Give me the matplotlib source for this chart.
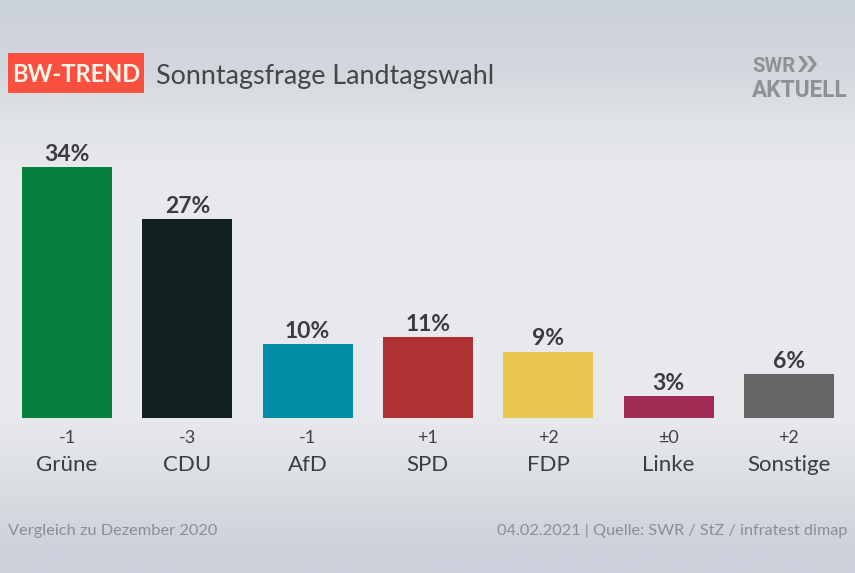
import numpy as np
import matplotlib
matplotlib.use('Agg')
import matplotlib.pyplot as plt
from matplotlib.colors import LinearSegmentedColormap
from matplotlib.patches import Rectangle, Polygon

plt.rcParams['font.family'] = ['Lato', 'DejaVu Sans']

parties = ['Grüne', 'CDU', 'AfD', 'SPD', 'FDP', 'Linke', 'Sonstige']
values = [34, 27, 10, 11, 9, 3, 6]
changes = ['-1', '-3', '-1', '+1', '+2', '±0', '+2']
bar_colors = ['#07803f', '#11211f', '#008ea6', '#ae3233', '#e8c64f', '#a22b55', '#656565']

W, H = 855, 573
fig = plt.figure(figsize=(W / 100, H / 100), dpi=100)

# background, everything outside the bars is placed in pixels on this axes
bg = fig.add_axes([0, 0, 1, 1])
bg.set_xlim(0, W)
bg.set_ylim(H, 0)
bg.axis('off')
cmap = LinearSegmentedColormap.from_list('bg', [
    (0.0, '#cbd1db'), (0.12, '#d3d8de'), (0.20, '#dfe2e6'), (0.30, '#e8e9ed'), (0.72, '#e9eaee'),
    (0.87, '#d8dce0'), (0.96, '#ccd1dc'), (1.0, '#ccd1dc')])
bg.imshow(np.linspace(0, 1, 400).reshape(-1, 1), cmap=cmap, aspect='auto', extent=[0, W, H, 0])

# bars
ax = fig.add_axes([0, (H - 418) / H, 1, 300 / H])
ax.patch.set_alpha(0)
ax.axis('off')
x = np.arange(len(parties))
ax.set_xlim((0 - 67) / 120.3, (W - 67) / 120.3)
ax.set_ylim(0, 300 / 7.38)
ax.bar(x, values, width=90 / 120.3, color=bar_colors)
for i, v in enumerate(values):
    ax.annotate(f'{v}%', (i, v), xytext=(0, 1.5), textcoords='offset points', ha='center', va='bottom',
                fontsize=16.5, fontweight='bold', color='#3a3b3f')

# labels under the bars
for i, (p, c) in enumerate(zip(parties, changes)):
    ax.annotate(c, (i, 0), xytext=(0, -18), textcoords='offset points', ha='center', va='baseline',
                fontsize=13, color='#3f4145', annotation_clip=False)
    ax.annotate(p, (i, 0), xytext=(0, -38), textcoords='offset points', ha='center', va='baseline',
                fontsize=16, color='#3a3d42', annotation_clip=False)

# header
bg.add_patch(Rectangle((8, 53), 136, 40, facecolor='#fb5040', edgecolor='none'))
bg.text(76, 74, 'BW-TREND', ha='center', va='center', fontsize=17, fontweight='bold', color='#fdf6ea')
bg.text(156, 84, 'Sonntagsfrage Landtagswahl', ha='left', va='baseline', fontsize=19.4, color='#43474c')

# logo
logo_font = ['Roboto', 'DejaVu Sans']
bg.text(752, 72, 'SWR', ha='left', va='baseline', fontsize=14.6, fontweight='bold', color='#8f9294',
        family=logo_font)
bg.text(752, 97, 'AKTUELL', ha='left', va='baseline', fontsize=16.3, fontweight='bold', color='#8f9294',
        family=logo_font)
for x0 in (798, 807):
    bg.add_patch(Polygon([[x0, 56], [x0 + 4, 56], [x0 + 10, 64], [x0 + 4, 72], [x0, 72], [x0 + 6, 64]],
                         facecolor='#8f9294', edgecolor='none'))

# footer
bg.text(8, 535, 'Vergleich zu Dezember 2020', ha='left', va='baseline', fontsize=11.8, color='#8b8e93')
bg.text(847, 535, '04.02.2021 | Quelle: SWR / StZ / infratest dimap', ha='right', va='baseline',
        fontsize=11.7, color='#8b8e93')

fig.savefig('out.png', dpi=100)
